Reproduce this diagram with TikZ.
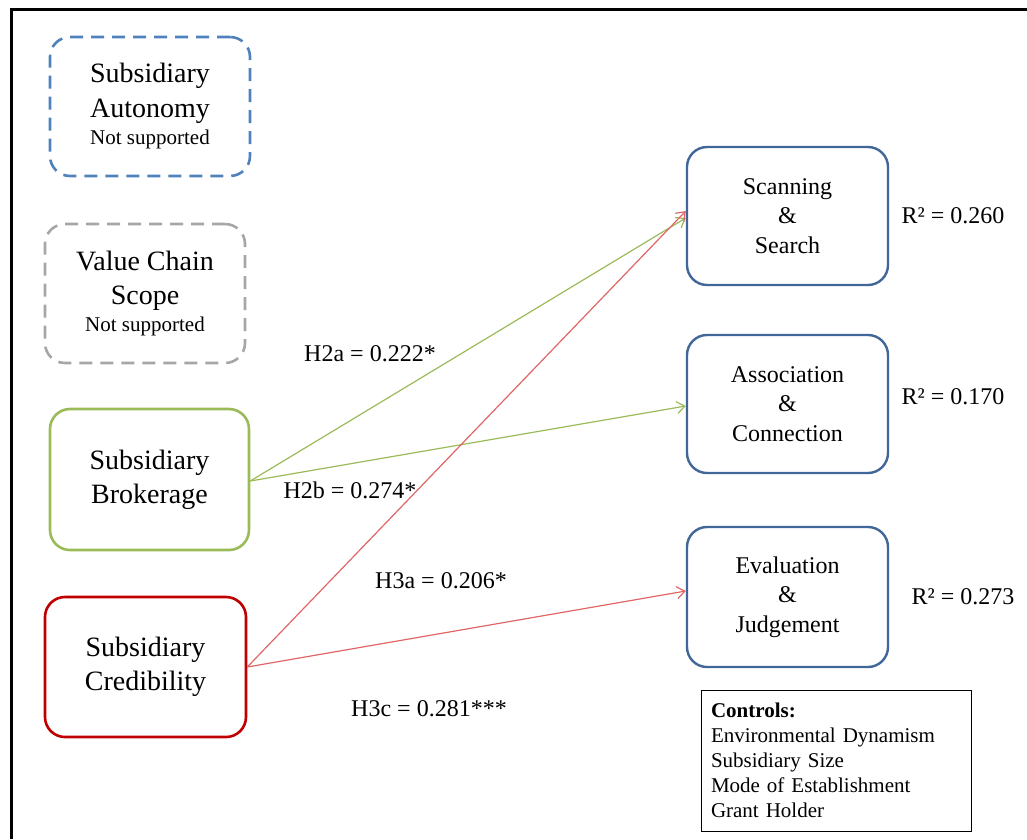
\documentclass[tikz,border=0pt]{standalone}
\usepackage{fontspec}
\setmainfont{Liberation Serif}
\usetikzlibrary{arrows.meta}
\definecolor{autblue}{HTML}{4F81BD}
\definecolor{scopegray}{HTML}{A6A6A6}
\definecolor{brokgreen}{HTML}{9BBB59}
\definecolor{credred}{HTML}{C00000}
\definecolor{arrred}{HTML}{E06666}
\definecolor{outblue}{HTML}{41679A}
\tikzset{
  construct/.style={draw, rounded corners=20pt, inner sep=0pt, align=center,
    font=\fontsize{28}{34}\selectfont},
  outcome/.style={construct, draw=outblue, line width=2.4pt,
    minimum width=201pt, font=\fontsize{24}{29.5}\selectfont},
  dashbox/.style={construct, line width=2.6pt, dash pattern=on 13pt off 8pt,
    minimum width=200pt, minimum height=139pt},
  solidbox/.style={construct, line width=2.6pt},
  path arrow/.style={line width=1.2pt, -{Straight Barb[length=8pt,width=12pt]}},
  coef/.style={font=\fontsize{24}{28}\selectfont, inner sep=0pt}
}
\begin{document}
\begin{tikzpicture}[x=1pt,y=-1pt]
\useasboundingbox (0,0) rectangle (1027,839);
% outer frame (open on the right and bottom)
\draw[line width=3pt] (1027,9.5) -- (11.5,9.5) -- (11.5,839);

% unsupported antecedents
\node[dashbox, draw=autblue] (aut) at (150,106.5)
  {Subsidiary\\[1pt]Autonomy\\[-7pt]{\fontsize{21}{24}\selectfont Not supported}};
\node[dashbox, draw=scopegray] (vcs) at (145,293.5)
  {Value Chain\\[0pt]Scope\\[-7pt]{\fontsize{21}{24}\selectfont Not supported}};

% supported antecedents
\node[solidbox, draw=brokgreen, minimum width=199pt, minimum height=141pt] (brok) at (149.5,479.5)
  {Subsidiary\\[0pt]Brokerage};
\node[solidbox, draw=credred, minimum width=201pt, minimum height=140pt] (cred) at (145.5,667)
  {Subsidiary\\[0pt]Credibility};

% outcomes
\node[outcome, minimum height=138pt] (scan) at (787.5,216) {Scanning\\\&\\Search};
\node[outcome, minimum height=138pt] (assoc) at (787.5,404) {Association\\\&\\Connection};
\node[outcome, minimum height=140pt] (eval) at (787.5,597) {Evaluation\\\&\\Judgement};

% explained variance
\node[coef] (r1) at (953,216) {R² = 0.260};
\node[coef] (r2) at (953,397) {R² = 0.170};
\node[coef] (r3) at (963,597) {R² = 0.273};

% structural paths
\draw[path arrow, brokgreen] ([yshift=-1.5pt]brok.east) -- ([yshift=-2pt]scan.west);
\draw[path arrow, brokgreen] ([yshift=-1.5pt]brok.east) -- ([yshift=-2pt]assoc.west);
\draw[path arrow, arrred] (cred.east) -- ([yshift=5pt]scan.west);
\draw[path arrow, arrred] (cred.east) -- ([yshift=6pt]eval.west);

% path coefficients
\node[coef] (h2a) at (370,354) {H2a = 0.222*};
\node[coef] (h2b) at (350,490) {H2b = 0.274*};
\node[coef] (h3a) at (441,581) {H3a = 0.206*};
\node[coef] (h3c) at (429,709) {H3c = 0.281***};

% control variables
\node[draw, line width=1pt, minimum width=270pt, minimum height=141pt,
      text width=250pt, align=left, inner sep=0pt,
      font=\fontsize{21}{25}\selectfont] (ctrl) at (836,760.5)
  {\textbf{Controls:}\\Environmental Dynamism\\Subsidiary Size\\Mode of Establishment\\Grant Holder};
\end{tikzpicture}
\end{document}
